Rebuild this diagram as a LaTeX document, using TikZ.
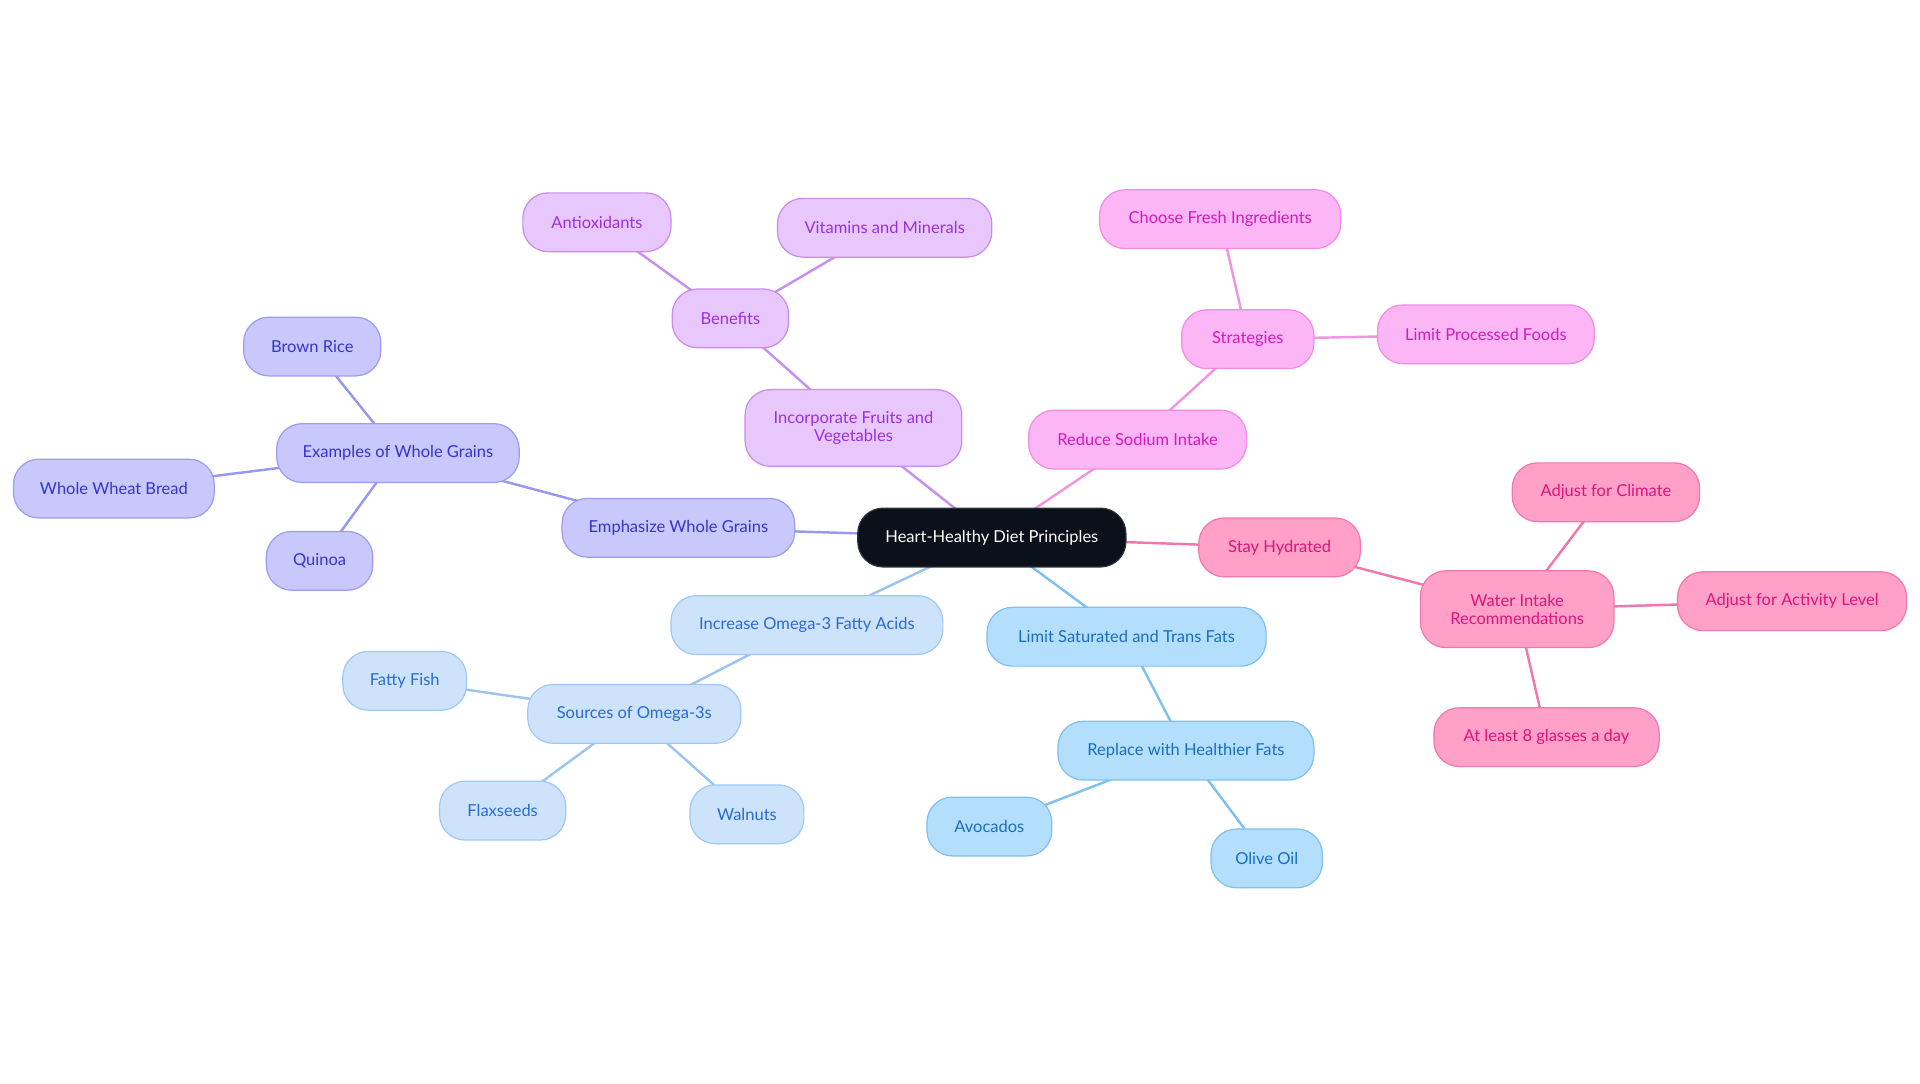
\documentclass[tikz,border=0pt]{standalone}
\usepackage{fontspec}
\setmainfont{Lato}
\usetikzlibrary{backgrounds}
\definecolor{cfill}{HTML}{0B111B}
\definecolor{pfill}{HTML}{E8C8FC}\definecolor{pdraw}{HTML}{C98BEE}\definecolor{ptext}{HTML}{9B2FDC}\definecolor{pline}{HTML}{C690EC}
\definecolor{sfill}{HTML}{FDB6F5}\definecolor{sdraw}{HTML}{F08CE2}\definecolor{stext}{HTML}{D01BBE}\definecolor{sline}{HTML}{F294E2}
\definecolor{hfill}{HTML}{FFA0C8}\definecolor{hdraw}{HTML}{F07AB0}\definecolor{htext}{HTML}{DC157A}\definecolor{hline}{HTML}{EE78AE}
\definecolor{bfill}{HTML}{B3DFFD}\definecolor{bdraw}{HTML}{7FC0F0}\definecolor{btext}{HTML}{1A6EC0}\definecolor{bline}{HTML}{80C0EE}
\definecolor{ofill}{HTML}{CDE3FB}\definecolor{odraw}{HTML}{A0C8F4}\definecolor{otext}{HTML}{2B6AD0}\definecolor{oline}{HTML}{9CC4F0}
\definecolor{gfill}{HTML}{C8C8FD}\definecolor{gdraw}{HTML}{9C9CF2}\definecolor{gtext}{HTML}{3535CC}\definecolor{gline}{HTML}{9898F0}
\tikzset{
  box/.style={rectangle, rounded corners=15.5pt, inner sep=0pt, minimum height=36pt, line width=0.75pt, align=center,
    font=\fontsize{10.1}{11.25}\selectfont},
  bw/.style={minimum width=#1*0.75pt},
  twol/.style={minimum height=47pt},
  cbox/.style={box, fill=cfill, draw=cfill!70!gray, text=white},
  pbox/.style={box, fill=pfill, draw=pdraw, text=ptext},
  sbox/.style={box, fill=sfill, draw=sdraw, text=stext},
  hbox/.style={box, fill=hfill, draw=hdraw, text=htext},
  bbox/.style={box, fill=bfill, draw=bdraw, text=btext},
  obox/.style={box, fill=ofill, draw=odraw, text=otext},
  gbox/.style={box, fill=gfill, draw=gdraw, text=gtext},
  edge/.style={line width=1.5pt},
}
\begin{document}
\begin{tikzpicture}[x=0.75pt,y=-0.75pt]
\useasboundingbox (0,0) rectangle (1568,884.5);
% center
\node[cbox,bw=219] (c) at (810,439) {Heart-Healthy Diet Principles};
% purple
\node[pbox,bw=177,twol] (fv) at (697,349.5) {Incorporate Fruits and\\Vegetables};
\node[pbox,bw=95] (ben) at (596.5,260) {Benefits};
\node[pbox,bw=121] (ant) at (487.5,181.5) {Antioxidants};
\node[pbox,bw=175] (vit) at (722.5,186) {Vitamins and Minerals};
% sodium
\node[sbox,bw=178] (sod) at (929,359) {Reduce Sodium Intake};
\node[sbox,bw=108] (str) at (1019,277) {Strategies};
\node[sbox,bw=197] (fre) at (996.5,179) {Choose Fresh Ingredients};
\node[sbox,bw=177] (pro) at (1213.5,273) {Limit Processed Foods};
% hydrated
\node[hbox,bw=132] (hyd) at (1045,447) {Stay Hydrated};
\node[hbox,bw=158,twol] (wat) at (1239,497.5) {Water Intake\\Recommendations};
\node[hbox,bw=153] (cli) at (1311.5,402) {Adjust for Climate};
\node[hbox,bw=187] (act) at (1463.5,491) {Adjust for Activity Level};
\node[hbox,bw=184] (gla) at (1263,602) {At least 8 glasses a day};
% saturated fats
\node[bbox,bw=228] (sat) at (920,520) {Limit Saturated and Trans Fats};
\node[bbox,bw=209] (rep) at (968.5,613) {Replace with Healthier Fats};
\node[bbox,bw=102] (avo) at (808,675) {Avocados};
\node[bbox,bw=91] (oli) at (1034.5,701) {Olive Oil};
% omega
\node[obox,bw=222] (ome) at (659,510.5) {Increase Omega-3 Fatty Acids};
\node[obox,bw=174] (sou) at (518,583) {Sources of Omega-3s};
\node[obox,bw=101] (fis) at (330.5,556) {Fatty Fish};
\node[obox,bw=103] (fla) at (410.5,662) {Flaxseeds};
\node[obox,bw=93] (wal) at (610,665) {Walnuts};
% grains
\node[gbox,bw=190] (emp) at (554,431) {Emphasize Whole Grains};
\node[gbox,bw=198] (exa) at (325,370) {Examples of Whole Grains};
\node[gbox,bw=112] (bro) at (255,283) {Brown Rice};
\node[gbox,bw=164] (whe) at (93,399) {Whole Wheat Bread};
\node[gbox,bw=87] (qui) at (261,458) {Quinoa};
\begin{pgfonlayer}{background}
\draw[edge,pline] (c.center) -- (fv.center);
\draw[edge,pline] (fv.center) -- (ben.center);
\draw[edge,pline] (ben.center) -- (ant.center);
\draw[edge,pline] (ben.center) -- (vit.center);
\draw[edge,sline] (c.center) -- (sod.center);
\draw[edge,sline] (sod.center) -- (str.center);
\draw[edge,sline] (str.center) -- (fre.center);
\draw[edge,sline] (str.center) -- (pro.center);
\draw[edge,hline] (c.center) -- (hyd.center);
\draw[edge,hline] (hyd.center) -- (wat.center);
\draw[edge,hline] (wat.center) -- (cli.center);
\draw[edge,hline] (wat.center) -- (act.center);
\draw[edge,hline] (wat.center) -- (gla.center);
\draw[edge,bline] (c.center) -- (sat.center);
\draw[edge,bline] (sat.center) -- (rep.center);
\draw[edge,bline] (rep.center) -- (avo.center);
\draw[edge,bline] (rep.center) -- (oli.center);
\draw[edge,oline] (c.center) -- (ome.center);
\draw[edge,oline] (ome.center) -- (sou.center);
\draw[edge,oline] (sou.center) -- (fis.center);
\draw[edge,oline] (sou.center) -- (fla.center);
\draw[edge,oline] (sou.center) -- (wal.center);
\draw[edge,gline] (c.center) -- (emp.center);
\draw[edge,gline] (emp.center) -- (exa.center);
\draw[edge,gline] (exa.center) -- (bro.center);
\draw[edge,gline] (exa.center) -- (whe.center);
\draw[edge,gline] (exa.center) -- (qui.center);
\end{pgfonlayer}
\end{tikzpicture}
\end{document}
